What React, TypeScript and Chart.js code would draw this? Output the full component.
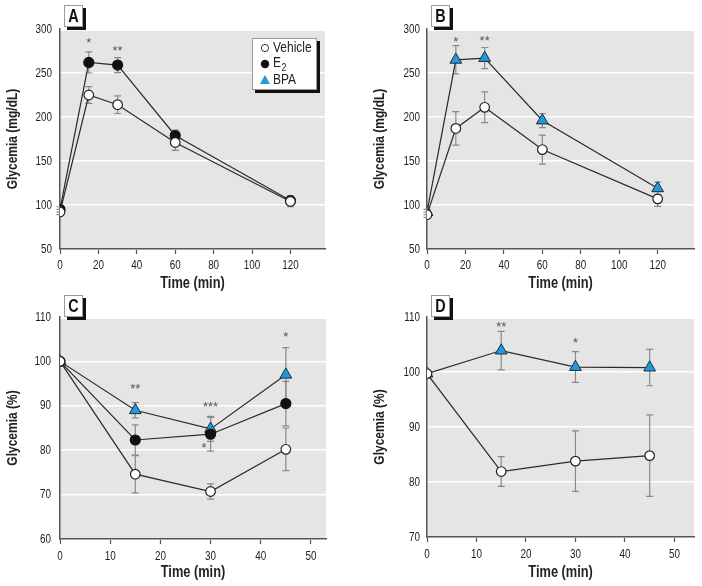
import React, { useEffect, useRef } from "react";
import { Chart, registerables } from "chart.js";

Chart.register(...registerables);

const FONT = '"Liberation Sans", Arial, sans-serif';
const NARROW = 0.8; // horizontal squeeze to mimic a condensed face

// ---------- data ----------
const timeGTT = [0, 15, 30, 60, 120];
const timeITT = [0, 15, 30, 45];

const gttYTicks = [50, 100, 150, 200, 250, 300];
const gttXTicks = [0, 20, 40, 60, 80, 100, 120];
const ittXTicks = [0, 10, 20, 30, 40, 50];
const cYTicks = [60, 70, 80, 90, 100, 110];
const dYTicks = [70, 80, 90, 100, 110];

const aVehicle = [92, 225, 214, 171, 104];
const aVehicleSem = [3, 9.5, 10, 9, 6];
const aE2 = [95, 262, 259, 179, 105];
const aE2Sem = [3, 12, 8.5, 6, 5];

const bVehicle = [89, 187, 211, 163, 107];
const bVehicleSem = [3, 19, 17.5, 16.5, 8.5];
const bBPA = [92, 265, 267, 196, 119];
const bBPASem = [3, 16, 12, 8, 7];

const cVehicle = [100, 74.6, 70.7, 80.2];
const cVehicleSem = [0, 4.2, 1.7, 4.8];
const cE2 = [100, 82.3, 83.6, 90.5];
const cE2Sem = [0, 3.4, 3.8, 5.0];
const cBPA = [100, 89.0, 84.8, 97.0];
const cBPASem = [0, 1.7, 2.8, 6.1];

const dVehicle = [99.7, 81.9, 83.8, 84.8];
const dVehicleSem = [0, 2.7, 5.5, 7.4];
const dBPA = [99.7, 103.9, 100.9, 100.8];
const dBPASem = [0, 3.5, 2.8, 3.3];

const aStars = [
  { x: 15, y: 287, t: "*" },
  { x: 30, y: 278, t: "**" },
];
const bStars = [
  { x: 15, y: 289, t: "*" },
  { x: 30, y: 290, t: "**" },
];
const cStars = [
  { x: 15, y: 94.4, t: "**" },
  { x: 30, y: 90.5, t: "***" },
  { x: 28.7, y: 81.1, t: "*" },
  { x: 45, y: 106.2, t: "*" },
];
const dStars = [
  { x: 15, y: 108.8, t: "**" },
  { x: 30, y: 105.9, t: "*" },
];

// ---------- styles ----------
const BLUE = "#1f9bd8";
const seriesStyles: Record<string, any> = {
  vehicle: {
    pointStyle: "circle",
    pointRadius: 4.8,
    pointBackgroundColor: "#ffffff",
    pointBorderColor: "#222222",
    pointBorderWidth: 1.2,
  },
  e2: {
    pointStyle: "circle",
    pointRadius: 5,
    pointBackgroundColor: "#111111",
    pointBorderColor: "#111111",
    pointBorderWidth: 1.2,
  },
  bpa: {
    pointStyle: "triangle",
    pointRadius: 6.8,
    pointBackgroundColor: BLUE,
    pointBorderColor: "#1c2f45",
    pointBorderWidth: 1,
  },
};

function drawText(
  ctx: any,
  text: string,
  x: number,
  y: number,
  font: string,
  align: string,
  baseline: string,
  color: string,
  rot = 0,
  sx = NARROW
) {
  ctx.save();
  ctx.translate(x, y);
  if (rot) ctx.rotate(rot);
  ctx.scale(sx, 1);
  ctx.font = font;
  ctx.textAlign = align;
  ctx.textBaseline = baseline;
  ctx.fillStyle = color;
  ctx.fillText(text, 0, 0);
  ctx.restore();
}

// ---------- plugins ----------
const bgPlugin = {
  id: "plotBg",
  beforeDraw(chart: any) {
    const { ctx, chartArea } = chart;
    ctx.save();
    ctx.fillStyle = "#e5e5e5";
    ctx.fillRect(chartArea.left, chartArea.top + 2, chartArea.right - chartArea.left, chartArea.bottom - chartArea.top - 2);
    ctx.restore();
  },
};

const errPlugin = {
  id: "errBars",
  beforeDatasetsDraw(chart: any) {
    const { ctx } = chart;
    const ys = chart.scales.y;
    ctx.save();
    ctx.strokeStyle = "#8a8a8a";
    ctx.lineWidth = 1.2;
    chart.data.datasets.forEach((ds: any, i: number) => {
      const meta = chart.getDatasetMeta(i);
      meta.data.forEach((pt: any, j: number) => {
        const sem = ds.sem[j];
        if (!sem) return;
        const v = ds.data[j].y;
        const x = pt.x;
        const yt = ys.getPixelForValue(v + sem);
        const yb = ys.getPixelForValue(v - sem);
        ctx.beginPath();
        ctx.moveTo(x, yt);
        ctx.lineTo(x, yb);
        ctx.moveTo(x - 3.5, yt);
        ctx.lineTo(x + 3.5, yt);
        ctx.moveTo(x - 3.5, yb);
        ctx.lineTo(x + 3.5, yb);
        ctx.stroke();
      });
    });
    ctx.restore();
  },
};

const starPlugin = {
  id: "stars",
  afterDatasetsDraw(chart: any, _a: any, opts: any) {
    const { ctx } = chart;
    const stars = opts.stars || [];
    stars.forEach((s: any) => {
      const x = chart.scales.x.getPixelForValue(s.x);
      const y = chart.scales.y.getPixelForValue(s.y);
      drawText(ctx, s.t, x, y + 7, `13px ${FONT}`, "center", "alphabetic", "#555", 0, 1);
    });
  },
};

const axisTextPlugin = {
  id: "axisText",
  afterDraw(chart: any, _a: any, opts: any) {
    const { ctx, chartArea } = chart;
    const xs = chart.scales.x;
    const ys = chart.scales.y;
    const tf = `13px ${FONT}`;
    (opts.xTicks || []).forEach((v: number) => {
      drawText(ctx, String(v), xs.getPixelForValue(v), chartArea.bottom + opts.xLabelOff, tf, "center", "middle", "#222", 0, 0.76);
    });
    (opts.yTicks || []).forEach((v: number) => {
      drawText(ctx, String(v), chartArea.left - opts.yLabelOff, ys.getPixelForValue(v), tf, "right", "middle", "#222", 0, 0.76);
    });
    drawText(
      ctx,
      opts.xTitle,
      (chartArea.left + chartArea.right) / 2,
      chartArea.bottom + opts.xTitleOff,
      `bold 16px ${FONT}`,
      "center",
      "middle",
      "#222"
    );
    drawText(
      ctx,
      opts.yTitle,
      chartArea.left - 47,
      (chartArea.top + chartArea.bottom) / 2,
      `bold 15px ${FONT}`,
      "center",
      "middle",
      "#222",
      -Math.PI / 2
    );
  },
};

function shadowBox(ctx: any, x: number, y: number, w: number, h: number) {
  ctx.fillStyle = "#111";
  ctx.fillRect(x + 3, y + 3, w, h);
  ctx.fillStyle = "#fff";
  ctx.fillRect(x, y, w, h);
  ctx.strokeStyle = "#9a9a9a";
  ctx.lineWidth = 1;
  ctx.strokeRect(x + 0.5, y + 0.5, w - 1, h - 1);
}

const panelLabelPlugin = {
  id: "panelLabel",
  afterDraw(chart: any, _a: any, opts: any) {
    const { ctx, chartArea } = chart;
    const x0 = chartArea.left + 4;
    const y0 = 5;
    ctx.save();
    shadowBox(ctx, x0, y0, 19, 22);
    ctx.restore();
    drawText(ctx, opts.text, x0 + 9.5, y0 + 12, `bold 18px ${FONT}`, "center", "middle", "#111");
  },
};

const legendPlugin = {
  id: "boxLegend",
  afterDraw(chart: any, _a: any, opts: any) {
    if (!opts.show) return;
    const { ctx, chartArea } = chart;
    const w = 65;
    const h = 52;
    const x0 = chartArea.right - 73;
    const y0 = chartArea.top + 9;
    ctx.save();
    shadowBox(ctx, x0, y0, w, h);
    const mx = x0 + 13;
    const r1 = y0 + 10;
    const r2 = y0 + 26;
    const r3 = y0 + 42;
    ctx.beginPath();
    ctx.arc(mx, r1, 3.6, 0, Math.PI * 2);
    ctx.fillStyle = "#fff";
    ctx.fill();
    ctx.strokeStyle = "#333";
    ctx.lineWidth = 1;
    ctx.stroke();
    ctx.beginPath();
    ctx.arc(mx, r2, 4.2, 0, Math.PI * 2);
    ctx.fillStyle = "#111";
    ctx.fill();
    ctx.beginPath();
    ctx.moveTo(mx, r3 - 5);
    ctx.lineTo(mx + 5, r3 + 4);
    ctx.lineTo(mx - 5, r3 + 4);
    ctx.closePath();
    ctx.fillStyle = BLUE;
    ctx.fill();
    ctx.restore();
    const tx = x0 + 21;
    const lf = `15px ${FONT}`;
    drawText(ctx, "Vehicle", tx, r1, lf, "left", "middle", "#222");
    drawText(ctx, "E", tx, r2 - 1, lf, "left", "middle", "#222");
    ctx.save();
    ctx.font = lf;
    const ew = ctx.measureText("E").width * NARROW;
    ctx.restore();
    drawText(ctx, "2", tx + ew + 0.5, r2 + 4, `11px ${FONT}`, "left", "middle", "#222");
    drawText(ctx, "BPA", tx, r3, lf, "left", "middle", "#222");
  },
};

// ---------- panel component ----------
type Series = { data: number[]; sem: number[]; style: string };
type PanelProps = {
  label: string;
  left: number;
  top: number;
  width: number;
  height: number;
  yAxisW: number;
  xAxisH: number;
  padTop: number;
  padRight: number;
  xLabelOff: number;
  xTitleOff: number;
  yLabelOff: number;
  times: number[];
  series: Series[];
  xMax: number;
  xTicks: number[];
  yMin: number;
  yMax: number;
  yTicks: number[];
  yTitle: string;
  stars: { x: number; y: number; t: string }[];
  legend?: boolean;
};

function Panel(p: PanelProps) {
  const ref = useRef<HTMLCanvasElement>(null);
  useEffect(() => {
    const datasets = p.series.map((s) => ({
      data: p.times.map((t, i) => ({ x: t, y: s.data[i] })),
      sem: s.sem,
      borderColor: "#2a2a2a",
      borderWidth: 1.2,
      tension: 0,
      fill: false,
      ...seriesStyles[s.style],
    }));
    const chart = new Chart(ref.current as HTMLCanvasElement, {
      type: "line",
      data: { datasets } as any,
      plugins: [bgPlugin, errPlugin, starPlugin, axisTextPlugin, panelLabelPlugin, legendPlugin],
      options: {
        animation: false,
        responsive: false,
        maintainAspectRatio: false,
        layout: { padding: { top: p.padTop, right: p.padRight, left: 0, bottom: 0 } },
        plugins: {
          legend: { display: false },
          tooltip: { enabled: false },
          stars: { stars: p.stars },
          panelLabel: { text: p.label },
          boxLegend: { show: !!p.legend },
          axisText: {
            xTicks: p.xTicks,
            yTicks: p.yTicks,
            xTitle: "Time (min)",
            yTitle: p.yTitle,
            xLabelOff: p.xLabelOff,
            xTitleOff: p.xTitleOff,
            yLabelOff: p.yLabelOff,
          },
        } as any,
        scales: {
          x: {
            type: "linear",
            min: 0,
            max: p.xMax,
            afterBuildTicks: (s: any) => {
              s.ticks = p.xTicks.map((v) => ({ value: v }));
            },
            afterFit: (s: any) => {
              s.height = p.xAxisH;
            },
            ticks: { display: false },
            grid: { drawOnChartArea: false, drawTicks: true, tickLength: 5, tickColor: "#555", tickWidth: 1.2 },
            border: { color: "#555", width: 1.5 },
          },
          y: {
            type: "linear",
            min: p.yMin,
            max: p.yMax,
            afterBuildTicks: (s: any) => {
              s.ticks = p.yTicks.filter((v) => v !== p.yMax).map((v) => ({ value: v }));
            },
            afterFit: (s: any) => {
              s.width = p.yAxisW;
            },
            ticks: { display: false },
            grid: { color: "#ffffff", lineWidth: 1.5, drawTicks: false },
            border: { color: "#555", width: 1.5 },
          },
        },
      } as any,
    });
    return () => chart.destroy();
  }, []);
  return (
    <canvas
      ref={ref}
      width={p.width}
      height={p.height}
      style={{ position: "absolute", left: p.left, top: p.top, width: p.width, height: p.height }}
    />
  );
}

export default function App() {
  return (
    <div style={{ position: "absolute", left: 0, top: 0, width: 702, height: 586, background: "#fff", overflow: "hidden" }}>
      <Panel
        label="A"
        left={0}
        top={0}
        width={350}
        height={292}
        yAxisW={60}
        xAxisH={43}
        padTop={29}
        padRight={25}
        xLabelOff={16}
        xTitleOff={35}
        yLabelOff={8}
        times={timeGTT}
        series={[
          { data: aVehicle, sem: aVehicleSem, style: "vehicle" },
          { data: aE2, sem: aE2Sem, style: "e2" },
        ]}
        xMax={138}
        xTicks={gttXTicks}
        yMin={50}
        yMax={300}
        yTicks={gttYTicks}
        yTitle="Glycemia (mg/dL)"
        stars={aStars}
        legend
      />
      <Panel
        label="B"
        left={350}
        top={0}
        width={352}
        height={292}
        yAxisW={77}
        xAxisH={43}
        padTop={29}
        padRight={5}
        xLabelOff={16}
        xTitleOff={35}
        yLabelOff={7}
        times={timeGTT}
        series={[
          { data: bVehicle, sem: bVehicleSem, style: "vehicle" },
          { data: bBPA, sem: bBPASem, style: "bpa" },
        ]}
        xMax={139}
        xTicks={gttXTicks}
        yMin={50}
        yMax={300}
        yTicks={gttYTicks}
        yTitle="Glycemia (mg/dL)"
        stars={bStars}
      />
      <Panel
        label="C"
        left={0}
        top={290}
        width={350}
        height={296}
        yAxisW={60}
        xAxisH={47}
        padTop={27}
        padRight={24}
        xLabelOff={17}
        xTitleOff={34}
        yLabelOff={9}
        times={timeITT}
        series={[
          { data: cVehicle, sem: cVehicleSem, style: "vehicle" },
          { data: cE2, sem: cE2Sem, style: "e2" },
          { data: cBPA, sem: cBPASem, style: "bpa" },
        ]}
        xMax={53}
        xTicks={ittXTicks}
        yMin={60}
        yMax={110}
        yTicks={cYTicks}
        yTitle="Glycemia (%)"
        stars={cStars}
      />
      <Panel
        label="D"
        left={350}
        top={290}
        width={352}
        height={296}
        yAxisW={77}
        xAxisH={49}
        padTop={27}
        padRight={5}
        xLabelOff={17}
        xTitleOff={36}
        yLabelOff={7}
        times={timeITT}
        series={[
          { data: dVehicle, sem: dVehicleSem, style: "vehicle" },
          { data: dBPA, sem: dBPASem, style: "bpa" },
        ]}
        xMax={54}
        xTicks={ittXTicks}
        yMin={70}
        yMax={110}
        yTicks={dYTicks}
        yTitle="Glycemia (%)"
        stars={dStars}
      />
    </div>
  );
}
